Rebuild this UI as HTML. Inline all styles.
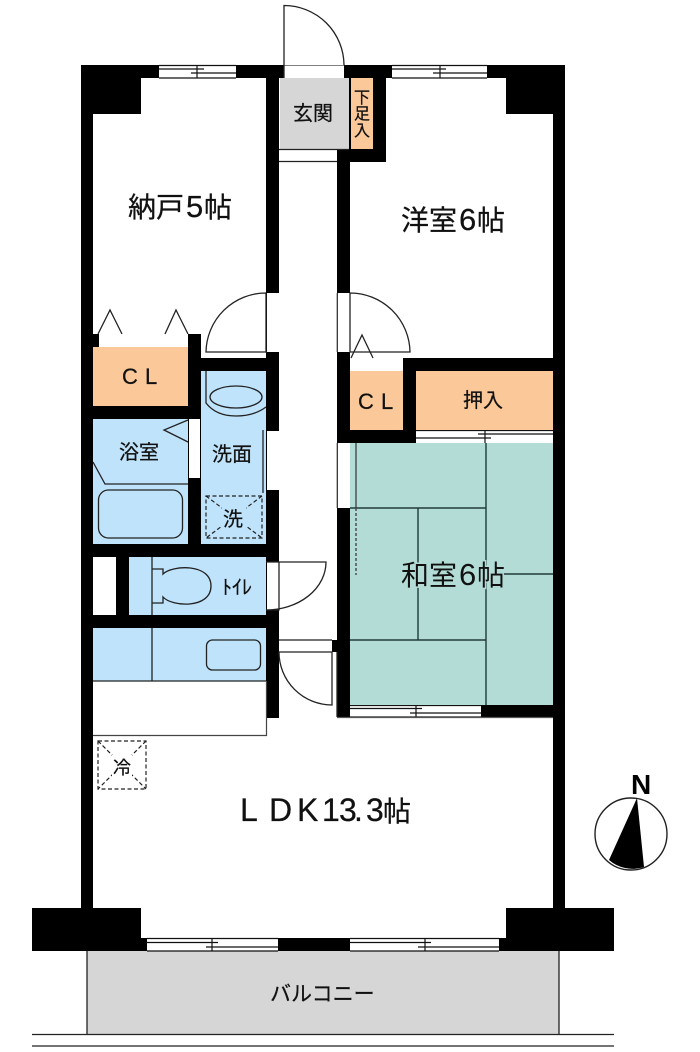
<!DOCTYPE html>
<html lang="ja">
<head>
<meta charset="utf-8">
<title>間取り図</title>
<style>
html,body{margin:0;padding:0;background:#fff;width:700px;height:1052px;overflow:hidden}
svg{display:block}
text{font-family:"Liberation Sans","Noto Sans CJK JP",sans-serif;fill:#111;stroke:#111;stroke-width:.25px}
.big{font-size:28px}
.big tspan.d{font-size:31px}
.md{font-size:20px}
.thin{fill:none;stroke:#222;stroke-width:1.3}
.rail{stroke:#111;stroke-width:1.2;fill:none}
.dash{fill:none;stroke:#222;stroke-width:1.2;stroke-dasharray:4 2.5}
.w{fill:#fff}
.k{fill:#000}
.b{fill:#bfe3fa}
.o{fill:#fbc999}
.g{fill:#d6d6d6}
.t{fill:#b3dcd6}
</style>
</head>
<body>
<svg width="700" height="1052" viewBox="0 0 700 1052" xmlns="http://www.w3.org/2000/svg">
<rect width="700" height="1052" fill="#fff"/>

<!-- balcony -->
<rect x="87" y="951" width="472" height="83" class="g"/>
<path d="M87 951V1034M559 951V1034" class="thin"/>
<path d="M32 1034.5H614M32 1046H614" class="thin"/>

<!-- outer walls -->
<g class="k">
<rect x="81" y="65" width="484" height="13"/>
<rect x="81" y="65" width="12" height="850"/>
<rect x="553" y="65" width="12" height="850"/>
<rect x="81" y="65" width="60" height="49"/>
<rect x="506" y="65" width="59" height="49"/>
<rect x="32" y="908" width="109" height="43"/>
<rect x="506" y="908" width="108" height="43"/>
<rect x="141" y="938" width="365" height="13"/>
<!-- interior -->
<rect x="266" y="78" width="13" height="640"/>
<rect x="337" y="149" width="13" height="568"/>
<rect x="337" y="78" width="49" height="84"/>
<rect x="93" y="334" width="108" height="13"/>
<rect x="188" y="334" width="13" height="222"/>
<rect x="188" y="358" width="78" height="13"/>
<rect x="93" y="406" width="108" height="13"/>
<rect x="93" y="544" width="186" height="13"/>
<rect x="116" y="544" width="13" height="84"/>
<rect x="93" y="615" width="186" height="13"/>
<rect x="403" y="358" width="150" height="13"/>
<rect x="403" y="358" width="13" height="85"/>
<rect x="337" y="430" width="79" height="13"/>
<rect x="481" y="705" width="72" height="12"/>
<rect x="332" y="640" width="6" height="12"/>
</g>

<!-- windows / openings -->
<g>
<rect x="159" y="65.5" width="77" height="12.5" class="w"/>
<rect x="392" y="65.5" width="95" height="12.5" class="w"/>
<rect x="147" y="938.5" width="131" height="12.5" class="w"/>
<rect x="350" y="938.5" width="149" height="12.5" class="w"/>
<rect x="416" y="430" width="137" height="13" class="w"/>
<rect x="350" y="705" width="131" height="12" class="w"/>
<rect x="284" y="65.5" width="60" height="12.5" class="w"/>
<rect x="99" y="334" width="89" height="13" class="w"/>
<rect x="350" y="358" width="53" height="13" class="w"/>
<rect x="189" y="419" width="11" height="59" class="w"/>
<rect x="267" y="293" width="12" height="59" class="w"/>
<rect x="267" y="431" width="12" height="59" class="w"/>
<rect x="267" y="562" width="12" height="48" class="w"/>
<rect x="338" y="293" width="12" height="59" class="w"/>
<rect x="338" y="443" width="12" height="65" class="w"/>
<rect x="279" y="640" width="53" height="12" class="w"/>
</g>
<g class="rail">
<path d="M159 65.5H236M159 78H236M159 69H204M191 73H236M197 65V78"/>
<path d="M392 65.5H487M392 78H487M392 69H446M433 73H487M440 65V78"/>
<path d="M147 938.5H278M147 951H278M147 942.5H218M206 947H278M212 938V951"/>
<path d="M350 938.5H499M350 951H499M350 942.5H431M418 947H499M425 938V951"/>
<path d="M416 430.5H553M478 434H553M416 438H491M485 430V443"/>
<path d="M350 705.5H481M350 717H481M350 708.5H422M410 713H481M416 705V717"/>
<path d="M337 717.5H553" stroke="#555"/>
</g>

<!-- rooms -->
<rect x="280" y="78" width="69" height="71" class="g"/>
<rect x="351" y="78" width="22" height="71" class="o"/>
<path d="M279 149.5H349M279 161.5H337" class="thin" stroke="#555"/>
<rect x="93" y="347" width="95" height="59" class="o"/>
<rect x="350" y="371" width="53" height="59" class="o"/>
<rect x="416" y="371" width="137" height="59" class="o"/>
<rect x="93" y="419" width="95" height="125" class="b"/>
<rect x="201" y="371" width="65" height="173" class="b"/>
<rect x="129" y="557" width="137" height="58" class="b"/>
<rect x="93" y="557" width="23" height="58" class="w"/>
<rect x="93" y="628" width="173" height="53" class="b"/>
<rect x="350" y="443" width="203" height="262" class="t"/>

<!-- tatami lines -->
<path d="M486 443V705M350 508H486M350 640H486M418 508V640M486 574H553" fill="none" stroke="#1f3b3a" stroke-width="1.4"/>
<path d="M356 443V508" fill="none" stroke="#333" stroke-width="1.2"/>
<path d="M356 508V575" fill="none" stroke="#444" stroke-width="1.4" stroke-dasharray="3 2"/>

<!-- doors -->
<path d="M284 78V5.5A60 60 0 0 1 344 65" class="thin"/>
<path d="M266 293A60 60 0 0 0 206 352H266V293" class="thin"/>
<path d="M350 293A60 60 0 0 1 410 352H350V293" class="thin"/>
<path d="M266 562H326A60 48 0 0 1 266 610H279V562" class="thin"/>
<path d="M279 652H332V705A53 53 0 0 1 279 652" class="thin"/>
<path d="M337 652V717M279 640H332" class="thin" stroke="#555"/>
<path d="M337 293V352M337 443V508" fill="none" stroke="#777" stroke-width="1"/>

<!-- closet triangles -->
<path d="M98 334L110 310L122 334M165 334L176 310L188 334M351 358L362 335L373 358" class="thin"/>

<!-- bath fixtures -->
<path d="M188 420L164 430L188 442" class="thin"/>
<path d="M93 462L105 484H188" class="thin"/>
<rect x="98.500" y="490" width="84" height="48" rx="10" class="thin"/>
<path d="M206 371V403Q216 416 236 416Q254 416 266 407" class="thin"/>
<ellipse cx="236" cy="397" rx="26" ry="11" class="thin"/>
<path d="M263 430V493" class="thin"/>
<rect x="206" y="496" width="56" height="42" class="dash"/>
<path d="M206 496L262 538M262 496L206 538" class="dash"/>
<rect x="222" y="507" width="24" height="24" fill="#bfe3fa"/>

<!-- toilet -->
<path d="M152 557V615" class="thin"/>
<path d="M152 569H163V574C172 565 211 563 211 586C211 609 172 607 163 597V603H152" class="thin"/>

<!-- kitchen -->
<path d="M152 628V681M93 681H266" class="thin"/>
<rect x="206.500" y="640" width="54" height="30" rx="6" class="thin"/>
<path d="M93 735.500H266.500V681" fill="none" stroke="#444" stroke-width="1.2"/>

<!-- fridge -->
<rect x="98" y="741" width="48" height="48" class="dash"/>
<path d="M98 741L146 789M146 741L98 789" class="dash"/>
<rect x="112" y="755" width="20" height="22" fill="#fff"/>

<!-- labels -->
<text class="big" y="217"><tspan x="128 156">納戸</tspan><tspan class="d" x="186">5</tspan><tspan x="204">帖</tspan></text>
<text class="big" y="230"><tspan x="401 429">洋室</tspan><tspan class="d" x="459">6</tspan><tspan x="477">帖</tspan></text>
<text class="big" y="585" style="paint-order:stroke;stroke:#b3dcd6;stroke-width:3px"><tspan x="401 429">和室</tspan><tspan class="d" x="459">6</tspan><tspan x="477">帖</tspan></text>
<text font-size="32" x="240 269 297 322 339 354 366" y="821">LDK13.3</text>
<text class="big" x="383" y="821">帖</text>
<text class="md" x="293" y="120">玄関</text>
<text font-size="16" x="354" y="103">下</text>
<text font-size="16" x="354" y="119">足</text>
<text font-size="16" x="354" y="136">入</text>
<text font-size="22" x="122 145" y="384">CL</text>
<text font-size="22" x="358 381" y="409">CL</text>
<text class="md" x="463" y="407">押入</text>
<text class="md" x="119" y="459">浴室</text>
<text class="md" x="212" y="461">洗面</text>
<text class="md" x="223" y="526">洗</text>
<text font-size="20" x="222" y="594">ﾄｲﾚ</text>
<text font-size="18" x="113" y="774">冷</text>
<text font-size="21" x="270" y="1001">バルコニー</text>

<!-- compass -->
<text x="631" y="794" style="font-family:'Liberation Sans',sans-serif;font-weight:bold;font-size:28px;fill:#000;stroke:none">N</text>
<circle cx="631" cy="834" r="36" fill="#fff" stroke="#222" stroke-width="1.4"/>
<path d="M637 798L609 860A36 36 0 0 0 644 867Z" fill="#000"/>
</svg>
</body>
</html>
